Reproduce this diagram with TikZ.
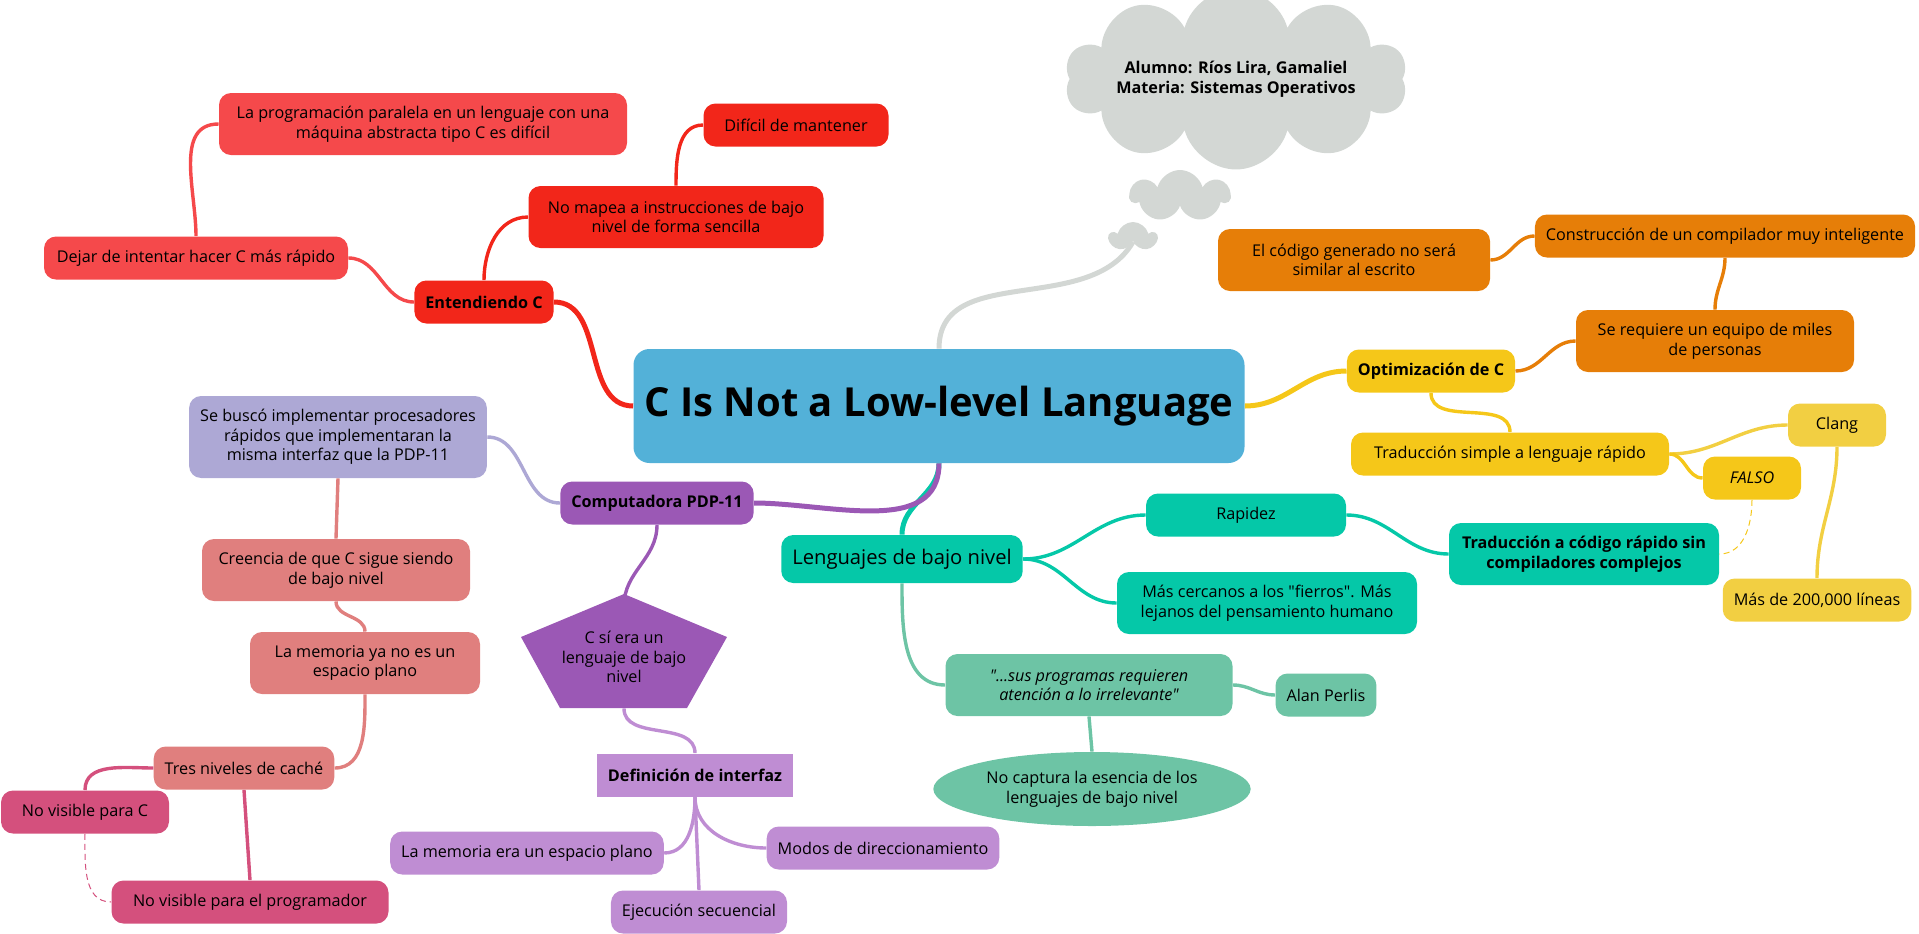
\documentclass[tikz,border=0pt]{standalone}
\usepackage{fontspec}
\setmainfont{Open Sans}[Ligatures=TeXOff]
\usetikzlibrary{shapes.geometric,shapes.symbols}

\definecolor{rootblue}{HTML}{53B1D8}
\definecolor{redmain}{HTML}{F2261A}
\definecolor{redsoft}{HTML}{F5494B}
\definecolor{orangemain}{HTML}{E67E08}
\definecolor{yellowmain}{HTML}{F5C719}
\definecolor{yellowsoft}{HTML}{F2CF42}
\definecolor{tealmain}{HTML}{05C8A8}
\definecolor{greensoft}{HTML}{6DC4A5}
\definecolor{purplemain}{HTML}{9B58B5}
\definecolor{purplesoft}{HTML}{BF8DD3}
\definecolor{lavender}{HTML}{ADA8D5}
\definecolor{salmon}{HTML}{E07F7E}
\definecolor{pinkmain}{HTML}{D4507D}
\definecolor{cloudgrey}{HTML}{D3D7D4}

\begin{document}
\begin{tikzpicture}[
  x=0.5pt, y=-0.5pt,
  font=\fontsize{8.1pt}{9.85pt}\selectfont,
  topic/.style={rounded corners=6pt, align=center, inner xsep=5.5pt, inner ysep=3pt, minimum height=21.5pt, minimum width=49pt},
  plain/.style={align=center, inner xsep=5.5pt, inner ysep=3pt, minimum height=21.5pt},
  twoline/.style={minimum height=31pt},
  threeline/.style={minimum height=41pt},
  strong/.style={font=\fontsize{8.1pt}{9.85pt}\selectfont\bfseries},
  quoted/.style={font=\fontsize{8.1pt}{9.85pt}\selectfont\itshape},
  limb/.style={line width=2.5pt},
  twig/.style={line width=1.7pt},
  hint/.style={line width=0.5pt, dash pattern=on 3pt off 2pt}
]
\useasboundingbox (0,0) rectangle (1919,933);

\node[topic, fill=rootblue, rounded corners=8pt, minimum width=304pt, minimum height=57pt,
  font=\fontsize{20pt}{24pt}\selectfont\bfseries] (root) at (939,406) {C Is Not a Low-level Language};

% nota del alumno
\node[cloud, cloud puffs=10, aspect=3.1, fill=cloudgrey, inner xsep=-1pt, inner ysep=-6.5pt,
  align=center, strong] (note) at (1236,79) {Alumno: Ríos Lira, Gamaliel\\Materia: Sistemas Operativos};
\node[cloud, cloud puffs=7, aspect=1.9, fill=cloudgrey, inner sep=0pt, minimum width=50pt, minimum height=26pt] (puffa) at (1180,196) {};
\node[cloud, cloud puffs=5, aspect=1.5, fill=cloudgrey, inner sep=0pt, minimum width=23pt, minimum height=15pt] (puffb) at (1133,237) {};

% Entendiendo C
\node[topic, strong, fill=redmain] (ent) at (484,302) {Entendiendo C};
\node[topic, twoline, fill=redmain, minimum width=147.5pt] (nomapea) at (676,217) {No mapea a instrucciones de bajo\\nivel de forma sencilla};
\node[topic, fill=redmain, minimum width=92.5pt] (dificil) at (796,125) {Difícil de mantener};
\node[topic, fill=redsoft, minimum width=152pt] (dejar) at (196,258) {Dejar de intentar hacer C más rápido};
\node[topic, twoline, fill=redsoft, minimum width=204pt] (paralela) at (423,124) {La programación paralela en un lenguaje con una\\máquina abstracta tipo C es difícil};

% Optimizacion de C
\node[topic, strong, fill=yellowmain] (optim) at (1431,371) {Optimización de C};
\node[topic, twoline, fill=orangemain, minimum width=139pt] (equipo) at (1715,341) {Se requiere un equipo de miles\\de personas};
\node[topic, fill=orangemain] (compilador) at (1725,236) {Construcción de un compilador muy inteligente};
\node[topic, twoline, fill=orangemain, minimum width=136pt] (escrito) at (1354,260) {El código generado no será\\similar al escrito};
\node[topic, fill=yellowmain, minimum width=159pt] (simple) at (1510,454) {Traducción simple a lenguaje rápido};
\node[topic, fill=yellowsoft] (clang) at (1837,425) {Clang};
\node[topic, quoted, fill=yellowmain] (falso) at (1752,478) {FALSO};
\node[topic, fill=yellowsoft] (lineas) at (1817,600) {Más de 200,000 líneas};

% Lenguajes de bajo nivel
\node[topic, fill=tealmain, minimum height=24pt, font=\fontsize{10.1pt}{12pt}\selectfont] (leng) at (902,559) {Lenguajes de bajo nivel};
\node[topic, fill=tealmain, minimum width=100pt] (rapidez) at (1246,515) {Rapidez};
\node[topic, twoline, fill=tealmain, minimum width=150pt] (fierros) at (1267,603) {Más cercanos a los "fierros". Más\\lejanos del pensamiento humano};
\node[topic, twoline, strong, fill=tealmain, minimum width=135pt] (rapido) at (1584,554) {Traducción a código rápido sin\\compiladores complejos};
\node[topic, twoline, quoted, fill=greensoft, minimum width=143.5pt] (quote) at (1089,685) {"...sus programas requieren\\atención a lo irrelevante"};
\node[topic, fill=greensoft] (perlis) at (1326,695) {Alan Perlis};
\node[ellipse, fill=greensoft, align=center, minimum width=152pt, minimum height=37pt] (esencia) at (1092,789) {No captura la esencia de los\\lenguajes de bajo nivel};

% Computadora PDP-11
\node[topic, strong, fill=purplemain] (pdp) at (657,503) {Computadora PDP-11};
\node[topic, threeline, fill=lavender] (busco) at (338,437) {Se buscó implementar procesadores\\rápidos que implementaran la\\misma interfaz que la PDP-11};
\node[topic, twoline, fill=salmon, minimum width=134pt] (creencia) at (336,570) {Creencia de que C sigue siendo\\de bajo nivel};
\node[topic, twoline, fill=salmon, minimum width=115pt] (memoria) at (365,663) {La memoria ya no es un\\espacio plano};
\node[topic, fill=salmon] (cache) at (244,768) {Tres niveles de caché};
\node[topic, fill=pinkmain, minimum width=84pt] (novisc) at (85,812) {No visible para C};
\node[topic, fill=pinkmain, minimum width=138.5pt] (noprog) at (250,902) {No visible para el programador};
\fill[purplemain] (624,594) -- (727,637) -- (687,708) -- (560,708) -- (521,637) -- cycle;
\node[align=center, inner sep=0pt, minimum width=103pt, minimum height=51pt] (csi) at (624,657) {C sí era un\\lenguaje de bajo\\nivel};
\node[plain, strong, fill=purplesoft] (interfaz) at (695,775) {Definición de interfaz};
\node[topic, fill=purplesoft] (plano) at (527,853) {La memoria era un espacio plano};
\node[topic, fill=purplesoft] (modos) at (883,848) {Modos de direccionamiento};
\node[topic, fill=purplesoft] (secuencial) at (699,912) {Ejecución secuencial};

\draw[limb, cloudgrey] (root.north) to[out=90, in=-120] (puffb.south);

\draw[limb, redmain] (root.west) to[out=180, in=0] (ent.east);
\draw[twig, redmain] (ent.north) to[out=90, in=180] (nomapea.west);
\draw[twig, redmain] (nomapea.north) to[out=90, in=180] (dificil.west);
\draw[twig, redsoft] (ent.west) to[out=180, in=0] (dejar.east);
\draw[twig, redsoft] (dejar.north) to[out=90, in=180] (paralela.west);

\draw[limb, yellowmain] (root.east) to[out=0, in=180] (optim.west);
\draw[twig, orangemain] (optim.east) to[out=0, in=180] (equipo.west);
\draw[twig, orangemain] (equipo.north) to[out=90, in=-90] (compilador.south);
\draw[twig, orangemain] (compilador.west) to[out=180, in=0] (escrito.east);
\draw[twig, yellowmain] (optim.south) to[out=-90, in=90] (simple.north);
\draw[twig, yellowsoft] (simple.east) to[out=0, in=180] (clang.west);
\draw[twig, yellowmain] (simple.east) to[out=0, in=180] (falso.west);
\draw[twig, yellowsoft] (clang.south) to[out=-90, in=90] (lineas.north);
\draw[hint, yellowmain] (falso.south) to[out=-90, in=0] (rapido.east);

\draw[limb, tealmain] (root.south) to[out=-90, in=90] (leng.north);
\draw[twig, tealmain] (leng.east) to[out=0, in=180] (rapidez.west);
\draw[twig, tealmain] (leng.east) to[out=0, in=180] (fierros.west);
\draw[twig, tealmain] (rapidez.east) to[out=0, in=180] (rapido.west);
\draw[twig, greensoft] (leng.south) to[out=-90, in=180] (quote.west);
\draw[twig, greensoft] (quote.east) to[out=0, in=180] (perlis.west);
\draw[twig, greensoft] (quote.south) -- (esencia.north);

\draw[limb, purplemain] (root.south) to[out=-90, in=0] (pdp.east);
\draw[twig, lavender] (pdp.west) to[out=180, in=0] (busco.east);
\draw[twig, purplemain] (pdp.south) to[out=-90, in=90] (csi.north);
\draw[twig, salmon] (busco.south) -- (creencia.north);
\draw[twig, salmon] (creencia.south) to[out=-90, in=90] (memoria.north);
\draw[twig, salmon] (memoria.south) to[out=-90, in=0] (cache.east);
\draw[twig, pinkmain] (cache.west) to[out=180, in=90] (novisc.north);
\draw[twig, pinkmain] (cache.south) -- (noprog.north);
\draw[hint, pinkmain] (novisc.south) to[out=-90, in=180] (noprog.west);
\draw[twig, purplesoft] (csi.south) to[out=-90, in=90] (interfaz.north);
\draw[twig, purplesoft] (interfaz.south) to[out=-90, in=0] (plano.east);
\draw[twig, purplesoft] (interfaz.south) -- (secuencial.north);
\draw[twig, purplesoft] (interfaz.south) to[out=-90, in=180] (modos.west);

\end{tikzpicture}
\end{document}
